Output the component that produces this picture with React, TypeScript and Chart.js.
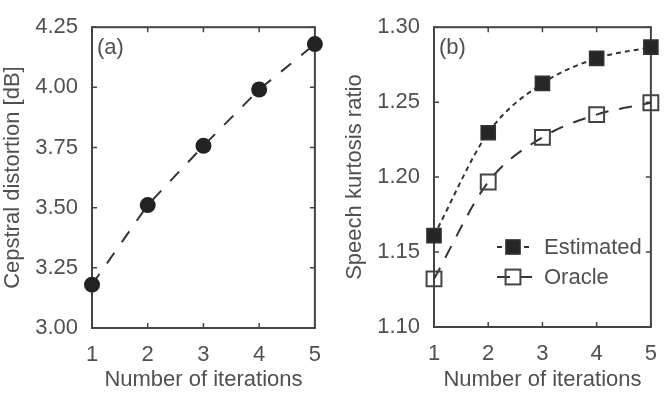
import React, { useEffect, useRef } from 'react';
import { Chart, registerables } from 'chart.js';

Chart.register(...registerables);

// Iteration counts on the shared x axis
const iterations = [1, 2, 3, 4, 5];
// Panel (a): cepstral distortion in dB
const cepstralDistortion = [3.18, 3.511, 3.757, 3.991, 4.18];
const cepstralTicks = [3.0, 3.25, 3.5, 3.75, 4.0, 4.25];
// Panel (b): speech kurtosis ratio
const kurtosisEstimated = [1.161, 1.2296, 1.2625, 1.2792, 1.2867];
const kurtosisOracle = [1.1321, 1.1967, 1.2265, 1.2417, 1.2496];
const kurtosisTicks = [1.1, 1.15, 1.2, 1.25, 1.3];

const FONT_FAMILY = '"Liberation Sans", Arial, Helvetica, sans-serif';
const TEXT = '#505050';
const FRAME = '#444444';
const font = { family: FONT_FAMILY, size: 22 };

const toPoints = (ys: number[]) => iterations.map((x, i) => ({ x, y: ys[i] }));

// Box around the plot area with short inward ticks on all four sides
const framePlugin = {
  id: 'frameTicks',
  beforeDatasetsDraw(chart: any) {
    const { ctx, chartArea: a, scales } = chart;
    const tick = 5;
    ctx.save();
    ctx.strokeStyle = FRAME;
    ctx.lineWidth = 1.5;
    ctx.beginPath();
    scales.x.ticks.forEach((t: any) => {
      const px = scales.x.getPixelForValue(t.value);
      ctx.moveTo(px, a.bottom);
      ctx.lineTo(px, a.bottom - tick);
      ctx.moveTo(px, a.top);
      ctx.lineTo(px, a.top + tick);
    });
    scales.y.ticks.forEach((t: any) => {
      const py = scales.y.getPixelForValue(t.value);
      ctx.moveTo(a.left, py);
      ctx.lineTo(a.left + tick, py);
      ctx.moveTo(a.right, py);
      ctx.lineTo(a.right - tick, py);
    });
    ctx.stroke();
    ctx.lineWidth = 2;
    ctx.strokeRect(a.left, a.top, a.right - a.left, a.bottom - a.top);
    ctx.restore();
  },
};

// Panel tag such as "(a)" in the upper-left corner
const tagPlugin = {
  id: 'panelTag',
  afterDraw(chart: any, _args: any, opts: any) {
    if (!opts || !opts.text) return;
    const { ctx, chartArea: a } = chart;
    ctx.save();
    ctx.font = `${font.size}px ${FONT_FAMILY}`;
    ctx.fillStyle = TEXT;
    ctx.textBaseline = 'middle';
    ctx.textAlign = 'left';
    ctx.fillText(opts.text, a.left + 5, a.top + 21);
    ctx.restore();
  },
};

// Legend drawn inside the plot: dashed stroke with the marker in its middle
const insetLegendPlugin = {
  id: 'insetLegend',
  afterDraw(chart: any, _args: any, opts: any) {
    if (!opts || !opts.show) return;
    const { ctx, chartArea: a } = chart;
    ctx.save();
    chart.data.datasets.forEach((ds: any, i: number) => {
      const y = a.bottom + opts.firstRow + i * opts.rowGap;
      const x0 = a.left + opts.lineStart;
      const x1 = a.left + opts.lineEnd;
      const xm = a.left + opts.marker;
      ctx.strokeStyle = ds.borderColor;
      ctx.lineWidth = ds.borderWidth;
      ctx.setLineDash(ds.borderDash || []);
      ctx.beginPath();
      ctx.moveTo(x0, y);
      ctx.lineTo(x1, y);
      ctx.stroke();
      ctx.setLineDash([]);
      const half = ds.pointRadius * Math.SQRT1_2;
      ctx.fillStyle = ds.pointBackgroundColor;
      ctx.fillRect(xm - half, y - half, half * 2, half * 2);
      ctx.strokeStyle = ds.pointBorderColor;
      ctx.lineWidth = ds.pointBorderWidth;
      ctx.strokeRect(xm - half, y - half, half * 2, half * 2);
      ctx.font = `${font.size}px ${FONT_FAMILY}`;
      ctx.fillStyle = TEXT;
      ctx.textBaseline = 'middle';
      ctx.textAlign = 'left';
      ctx.fillText(ds.label, a.left + opts.textStart, y + 1);
    });
    ctx.restore();
  },
};

type PanelSetup = {
  yMin: number;
  yMax: number;
  yTicks: number[];
  yTitle: string;
  yWidth: number;
  yTitlePad: number;
  xHeight: number;
  padTop: number;
  padRight: number;
  tag: string;
  legend: any;
};

function makeOptions(p: PanelSetup): any {
  return {
    responsive: false,
    animation: false,
    layout: { autoPadding: false, padding: { top: p.padTop, right: p.padRight, left: 0, bottom: 0 } },
    scales: {
      x: {
        type: 'linear',
        min: iterations[0],
        max: iterations[iterations.length - 1],
        afterBuildTicks: (s: any) => {
          s.ticks = iterations.map((v) => ({ value: v }));
        },
        afterFit: (s: any) => {
          s.height = p.xHeight;
        },
        grid: { display: false, drawTicks: false },
        border: { display: false },
        ticks: { font, color: TEXT, padding: 14, maxRotation: 0, callback: (v: any) => String(v) },
        title: { display: true, text: 'Number of iterations', font, color: TEXT, padding: { top: 0, bottom: 1 } },
      },
      y: {
        type: 'linear',
        min: p.yMin,
        max: p.yMax,
        afterBuildTicks: (s: any) => {
          s.ticks = p.yTicks.map((v) => ({ value: v }));
        },
        afterFit: (s: any) => {
          s.width = p.yWidth;
        },
        grid: { display: false, drawTicks: false },
        border: { display: false },
        ticks: { font, color: TEXT, padding: 14, callback: (v: any) => Number(v).toFixed(2) },
        title: { display: true, text: p.yTitle, font, color: TEXT, padding: { top: p.yTitlePad, bottom: 0 } },
      },
    },
    plugins: {
      legend: { display: false },
      tooltip: { enabled: false },
      panelTag: { text: p.tag },
      insetLegend: p.legend,
    },
  };
}

export default function App() {
  const leftRef = useRef<HTMLCanvasElement>(null);
  const rightRef = useRef<HTMLCanvasElement>(null);

  useEffect(() => {
    const charts: Chart[] = [];
    const plugins = [framePlugin, tagPlugin, insetLegendPlugin];

    if (leftRef.current) {
      charts.push(
        new Chart(leftRef.current, {
          type: 'line',
          data: {
            datasets: [
              {
                label: 'Cepstral distortion',
                data: toPoints(cepstralDistortion),
                borderColor: '#333333',
                borderWidth: 2,
                borderDash: [13, 13],
                tension: 0,
                pointStyle: 'circle',
                pointRadius: 8,
                pointBackgroundColor: '#232323',
                pointBorderColor: '#232323',
                pointBorderWidth: 0,
                clip: false,
              } as any,
            ],
          },
          options: makeOptions({
            yMin: 3.0,
            yMax: 4.25,
            yTicks: cepstralTicks,
            yTitle: 'Cepstral distortion [dB]',
            yWidth: 92,
            yTitlePad: 0,
            xHeight: 66,
            padTop: 9,
            padRight: 16,
            tag: '(a)',
            legend: { show: false },
          }),
          plugins,
        })
      );
    }

    if (rightRef.current) {
      charts.push(
        new Chart(rightRef.current, {
          type: 'line',
          data: {
            datasets: [
              {
                label: 'Estimated',
                data: toPoints(kurtosisEstimated),
                borderColor: '#333333',
                borderWidth: 2,
                borderDash: [5, 4],
                cubicInterpolationMode: 'monotone',
                pointStyle: 'rect',
                pointRadius: 10,
                pointBackgroundColor: '#262626',
                pointBorderColor: '#333333',
                pointBorderWidth: 1.5,
                clip: false,
              } as any,
              {
                label: 'Oracle',
                data: toPoints(kurtosisOracle),
                borderColor: '#333333',
                borderWidth: 2,
                borderDash: [13, 11],
                cubicInterpolationMode: 'monotone',
                pointStyle: 'rect',
                pointRadius: 10.5,
                pointBackgroundColor: 'rgba(255,255,255,0)',
                pointBorderColor: '#444444',
                pointBorderWidth: 2,
                clip: false,
              } as any,
            ],
          },
          options: makeOptions({
            yMin: 1.1,
            yMax: 1.3,
            yTicks: kurtosisTicks,
            yTitle: 'Speech kurtosis ratio',
            yWidth: 99,
            yTitlePad: 7,
            xHeight: 67,
            padTop: 7,
            padRight: 10,
            tag: '(b)',
            legend: { show: true, firstRow: -80, rowGap: 30, lineStart: 63, lineEnd: 98, marker: 79, textStart: 110 },
          }),
          plugins,
        })
      );
    }

    return () => charts.forEach((c) => c.destroy());
  }, []);

  return (
    <div style={{ position: 'fixed', left: 0, top: 0, width: 671, height: 394, background: '#fff' }}>
      <canvas ref={leftRef} width={335} height={394} style={{ position: 'absolute', left: 0, top: 0 }} />
      <canvas ref={rightRef} width={336} height={394} style={{ position: 'absolute', left: 335, top: 0 }} />
    </div>
  );
}
